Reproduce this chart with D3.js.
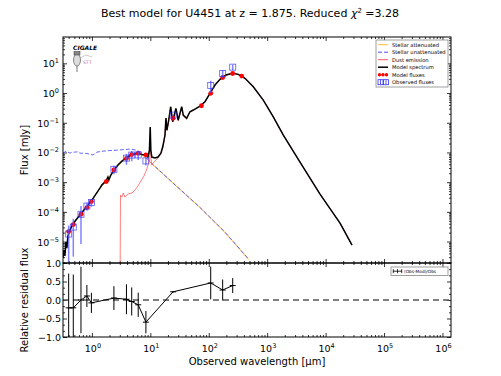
<!DOCTYPE html>
<html>
<head>
<meta charset="utf-8">
<script src="https://cdn.jsdelivr.net/npm/d3@7"></script>
<style>
  body { margin: 0; background: #fff; }
  text { font-family: "DejaVu Sans", sans-serif; }
</style>
</head>
<body>
<div id="chart"></div>
<script>
const width = 501;
const height = 376;

// band wavelengths (micron) and best model fluxes (mJy)
const bandWl = [0.40, 0.48, 0.65, 0.82, 0.98, 1.76, 2.38, 3.9, 4.8, 6.2, 8.4, 24.5, 75, 108, 173, 257, 366];
const modelFlux = [2.17e-5, 3.73e-5, 8.3e-5, 1.40e-4, 2.22e-4, 1.05e-3, 2.57e-3, 6.3e-3, 8.5e-3, 9.3e-3, 8.3e-3, 0.141, 0.373, 0.977, 3.33, 4.54, 3.73];

// observed fluxes (only the bands that were measured)
const obsWl = [0.40, 0.48, 0.65, 0.82, 0.98, 2.38, 3.9, 4.8, 6.2, 8.4, 24.5, 108, 173, 257];
const obsModel = [2.17e-5, 3.73e-5, 8.3e-5, 1.40e-4, 2.22e-4, 2.57e-3, 6.3e-3, 8.5e-3, 9.3e-3, 8.3e-3, 0.141, 0.977, 3.33, 4.54];
const obsFlux = [1.79e-5, 3.08e-5, 8.3e-5, 1.57e-4, 2.06e-4, 2.71e-3, 6.43e-3, 8.17e-3, 8.23e-3, 5.19e-3, 0.181, 1.81, 4.56, 7.44];
const obsErr = [1.66e-5, 2.77e-5, 7.47e-5, 4.7e-5, 5.6e-5, 8.7e-4, 2.6e-3, 3.1e-3, 2.7e-3, 1.56e-3, 0.004, 0.8, 1.3, 1.5];

// model spectrum
const specWl = [0.319, 0.332, 0.345, 0.359, 0.373, 0.388, 0.420, 0.473, 0.532, 0.624, 0.730, 0.855, 1.0, 1.17, 1.37, 1.48, 1.60, 1.74, 1.88, 1.95, 2.11, 2.38, 2.79, 3.26, 3.82, 4.47, 5.24, 6.13, 7.18, 8.40, 9.10, 9.65, 9.96, 10.2, 10.6, 12.0, 13.5, 15.2, 16.4, 17.8, 18.5, 19.2, 20.4, 22.3, 24.1, 27.4, 30.0, 34.4, 36.6, 41.8, 47.6, 54.3, 70.7, 86.1, 105, 128, 156, 197, 257, 320, 417, 578, 857, 1271, 1888, 3647, 8017, 17650, 28330];
const specFlux = [2.8e-6, 5.2e-6, 3.3e-6, 9.6e-6, 6.0e-6, 1.53e-5, 2.44e-5, 3.9e-5, 5.3e-5, 7.8e-5, 1.15e-4, 1.69e-4, 2.5e-4, 3.97e-4, 6.3e-4, 8.0e-4, 9.3e-4, 1.09e-3, 1.49e-3, 1.18e-3, 1.73e-3, 2.55e-3, 3.77e-3, 5.1e-3, 6.5e-3, 7.9e-3, 8.8e-3, 9.3e-3, 8.5e-3, 8.2e-3, 7.0e-3, 1.2e-2, 7.2e-2, 1.2e-2, 7.0e-3, 6.5e-3, 7.0e-3, 9.5e-3, 1.64e-2, 3.85e-2, 0.144, 5.7e-2, 0.106, 0.346, 0.108, 0.305, 0.123, 0.346, 0.182, 0.141, 0.235, 0.268, 0.365, 0.509, 0.977, 1.86, 2.89, 4.04, 4.60, 4.26, 3.13, 1.63, 0.581, 0.159, 3.85e-2, 4.75e-3, 3.97e-4, 4.2e-5, 7.6e-6];

// stellar attenuated
const attWl = [0.319, 0.373, 0.420, 0.532, 0.730, 1.0, 1.37, 1.74, 2.38, 3.26, 4.47, 6.13, 7.18, 8.40, 9.10, 9.84, 21.6, 70.5, 189, 480];
const attFlux = [3e-6, 8e-6, 2.4e-5, 5.2e-5, 1.13e-4, 2.45e-4, 6.2e-4, 1.07e-3, 2.5e-3, 5.0e-3, 7.7e-3, 9.0e-3, 8.2e-3, 6.6e-3, 5.9e-3, 4.75e-3, 1.15e-3, 1.4e-4, 2.05e-5, 2.5e-6];

// stellar unattenuated
const unattWl = [0.319, 0.359, 0.420, 0.45, 0.512, 0.58, 0.624, 0.821, 1.04, 1.22, 1.60, 2.03, 2.79, 3.53, 4.47, 5.66, 6.91, 8.40, 9.84, 21.6, 70.5, 189, 480];
const unattFlux = [9.3e-3, 1.11e-2, 9.5e-3, 1.0e-2, 1.03e-2, 1.05e-2, 9.5e-3, 9.2e-3, 8.2e-3, 1.03e-2, 1.11e-2, 1.16e-2, 1.2e-2, 1.25e-2, 1.30e-2, 1.2e-2, 1.03e-2, 7.0e-3, 4.86e-3, 1.18e-3, 1.42e-4, 2.09e-5, 2.58e-6];

// dust emission
const dustWl = [3.0, 3.08, 3.26, 3.44, 3.67, 3.97, 4.30, 4.84, 5.45, 6.13, 6.90, 7.77, 8.58, 9.27, 9.65, 9.96, 10.2, 10.6, 11.5, 13.0, 14.6, 16.4, 17.8, 18.5, 19.2, 20.4, 22.3, 24.1, 27.4, 30.0, 34.4, 36.6, 41.8, 47.6, 54.3, 70.7, 86.1, 105, 128, 156, 197, 257, 320, 417, 578, 857, 1271, 1888, 3647, 8017, 17650, 28330];
const dustFlux = [1e-9, 3.68e-4, 3.15e-4, 4.3e-4, 3.15e-4, 3.68e-4, 4.13e-4, 4.3e-4, 5.4e-4, 7.4e-4, 1.09e-3, 1.6e-3, 2.55e-3, 4.07e-3, 8.2e-3, 6.6e-2, 6.5e-3, 3.77e-3, 4.75e-3, 6.0e-3, 8.2e-3, 1.41e-2, 3.56e-2, 0.144, 5.3e-2, 0.098, 0.338, 0.106, 0.29, 0.114, 0.338, 0.168, 0.133, 0.229, 0.262, 0.36, 0.505, 0.975, 1.86, 2.89, 4.04, 4.6, 4.26, 3.13, 1.63, 0.581, 0.159, 3.85e-2, 4.75e-3, 3.97e-4, 4.2e-5, 7.6e-6];

const xMajor = [1, 10, 100, 1e3, 1e4, 1e5, 1e6];
const xLabels = ["0", "1", "2", "3", "4", "5", "6"];
const yMajor = [1e-5, 1e-4, 1e-3, 1e-2, 1e-1, 1, 10];
const yLabels = ["\u22125", "\u22124", "\u22123", "\u22122", "\u22121", "0", "1"];
const rMajor = [-1, -0.5, 0, 0.5, 1];
const rLabels = ["\u22121.0", "\u22120.5", "0.0", "0.5", "1.0"];

const legendNames = ["Stellar attenuated", "Stellar unattenuated", "Dust emission", "Model spectrum", "Model fluxes", "Observed fluxes"];

const L = 63, R = 451, T = 37, MB = 263, RB = 337;

const svg = d3.select("#chart")
  .append("svg")
  .attr("width", width)
  .attr("height", height);

const x = d3.scaleLog().domain([0.32, 1.4e6]).range([L, R]);
const y = d3.scaleLog().domain([1.9e-6, 77]).range([MB, T]);
const yr = d3.scaleLinear().domain([-1, 1]).range([RB, MB]);

const defs = svg.append("defs");
defs.append("clipPath").attr("id", "clipMain")
  .append("rect").attr("x", L).attr("y", T).attr("width", R - L).attr("height", MB - T);
defs.append("clipPath").attr("id", "clipRes")
  .append("rect").attr("x", L).attr("y", MB).attr("width", R - L).attr("height", RB - MB);

// minor ticks for log axes
function logMinor(lo, hi) {
  const out = [];
  for (let e = -7; e <= 7; e++) {
    for (let m = 2; m <= 9; m++) {
      const v = m * Math.pow(10, e);
      if (v > lo && v < hi) out.push(v);
    }
  }
  return out;
}
const xMinor = logMinor(0.32, 1.4e6);
const yMinor = logMinor(1.9e-6, 77);
const rMinor = d3.range(-1, 1.001, 1 / 6).filter(v => rMajor.every(m => Math.abs(m - v) > 1e-6));

function ticks(axisFn, scale, values, size, tx, ty) {
  const g = svg.append("g")
    .attr("transform", `translate(${tx},${ty})`)
    .call(axisFn(scale).tickValues(values).tickSize(size).tickSizeOuter(0).tickFormat(""));
  g.select(".domain").remove();
  g.selectAll("line").attr("stroke", "#000").attr("stroke-width", 0.8);
}

// main panel ticks
ticks(d3.axisTop, x, xMajor, 4, 0, MB);
ticks(d3.axisTop, x, xMinor, 2, 0, MB);
ticks(d3.axisBottom, x, xMajor, 4, 0, T);
ticks(d3.axisBottom, x, xMinor, 2, 0, T);
ticks(d3.axisRight, y, yMajor, 4, L, 0);
ticks(d3.axisRight, y, yMinor, 2, L, 0);
ticks(d3.axisLeft, y, yMajor, 4, R, 0);
ticks(d3.axisLeft, y, yMinor, 2, R, 0);
// residual panel ticks
ticks(d3.axisBottom, x, xMajor, 4, 0, MB);
ticks(d3.axisBottom, x, xMinor, 2, 0, MB);
ticks(d3.axisTop, x, xMajor, 4, 0, RB);
ticks(d3.axisTop, x, xMinor, 2, 0, RB);
ticks(d3.axisRight, yr, rMajor, 4, L, 0);
ticks(d3.axisRight, yr, rMinor, 2, L, 0);
ticks(d3.axisLeft, yr, rMajor, 4, R, 0);
ticks(d3.axisLeft, yr, rMinor, 2, R, 0);

// spectra
const main = svg.append("g").attr("clip-path", "url(#clipMain)");
const line = d3.line().x(d => x(d[0])).y(d => y(d[1]));

main.append("path").datum(d3.zip(attWl, attFlux))
  .attr("d", line).attr("fill", "none").attr("stroke", "#ffb833").attr("stroke-width", 1);
main.append("path").datum(d3.zip(unattWl, unattFlux))
  .attr("d", line).attr("fill", "none").attr("stroke", "#4d4dff").attr("stroke-width", 1)
  .attr("stroke-dasharray", "4,2").attr("opacity", 0.85);
main.append("path").datum(d3.zip(dustWl, dustFlux))
  .attr("d", line).attr("fill", "none").attr("stroke", "#ff5c5c").attr("stroke-width", 0.8);
main.append("path").datum(d3.zip(specWl, specFlux))
  .attr("d", line).attr("fill", "none").attr("stroke", "#000").attr("stroke-width", 1.5);

// model fluxes
main.selectAll(".mod").data(d3.zip(bandWl, modelFlux)).enter()
  .append("circle").attr("class", "mod")
  .attr("cx", d => x(d[0])).attr("cy", d => y(d[1])).attr("r", 2.4)
  .attr("fill", "#ff0000");

// observed fluxes with error bars
const obs = obsWl.map((w, i) => ({ w: w, f: obsFlux[i], e: obsErr[i], m: obsModel[i] }));
main.selectAll(".oerr").data(obs).enter()
  .append("line").attr("class", "oerr")
  .attr("x1", d => x(d.w)).attr("x2", d => x(d.w))
  .attr("y1", d => y(d.f + d.e))
  .attr("y2", d => d.f - d.e > 0 ? y(d.f - d.e) : MB + 10)
  .attr("stroke", "#5a5aff").attr("stroke-width", 1.5).attr("opacity", 0.75);
main.selectAll(".obs").data(obs).enter()
  .append("rect").attr("class", "obs")
  .attr("x", d => x(d.w) - 3).attr("y", d => y(d.f) - 3)
  .attr("width", 6).attr("height", 6)
  .attr("fill", "none").attr("stroke", "#3030ff").attr("stroke-width", 0.8).attr("opacity", 0.8);

// residual panel
const res = svg.append("g").attr("clip-path", "url(#clipRes)");
res.append("line")
  .attr("x1", L).attr("x2", R).attr("y1", yr(0)).attr("y2", yr(0))
  .attr("stroke", "#555").attr("stroke-width", 1.5).attr("stroke-dasharray", "6,4");

const resid = obs.map(d => ({ w: d.w, r: (d.f - d.m) / d.f, e: d.e / d.f }));
res.append("path").datum(resid)
  .attr("d", d3.line().x(d => x(d.w)).y(d => yr(d.r)))
  .attr("fill", "none").attr("stroke", "#000").attr("stroke-width", 1);
res.selectAll(".rerr").data(resid).enter()
  .append("line").attr("class", "rerr")
  .attr("x1", d => x(d.w)).attr("x2", d => x(d.w))
  .attr("y1", d => yr(d.r + d.e)).attr("y2", d => yr(d.r - d.e))
  .attr("stroke", "#000").attr("stroke-width", 1);
res.selectAll(".rmk").data(resid).enter()
  .append("line").attr("class", "rmk")
  .attr("x1", d => x(d.w) - 3).attr("x2", d => x(d.w) + 3)
  .attr("y1", d => yr(d.r)).attr("y2", d => yr(d.r))
  .attr("stroke", "#000").attr("stroke-width", 1);

// frames
svg.append("rect").attr("x", L).attr("y", T).attr("width", R - L).attr("height", MB - T)
  .attr("fill", "none").attr("stroke", "#000").attr("stroke-width", 1);
svg.append("rect").attr("x", L).attr("y", MB).attr("width", R - L).attr("height", RB - MB)
  .attr("fill", "none").attr("stroke", "#000").attr("stroke-width", 1);

// tick labels
const yl = svg.append("g").attr("font-size", 9.5).attr("text-anchor", "end");
yMajor.forEach((v, i) => {
  const t = yl.append("text").attr("x", 59).attr("y", y(v) + 4).text("10");
  t.append("tspan").attr("dy", -4).attr("font-size", 6.5).text(yLabels[i]);
});
rMajor.forEach((v, i) => {
  yl.append("text").attr("x", 61).attr("y", yr(v) + 3.5).text(rLabels[i]);
});
const xl = svg.append("g").attr("font-size", 9.5).attr("text-anchor", "middle");
xMajor.forEach((v, i) => {
  const t = xl.append("text").attr("x", x(v) + 1).attr("y", 351.5).text("10");
  t.append("tspan").attr("dy", -4).attr("font-size", 6.5).text(xLabels[i]);
});

// axis titles
svg.append("text").attr("x", 257).attr("y", 365).attr("text-anchor", "middle")
  .attr("font-size", 10).text("Observed wavelength [\u03bcm]");
svg.append("text").attr("transform", "translate(28,150) rotate(-90)")
  .attr("text-anchor", "middle").attr("font-size", 10).text("Flux [mJy]");
svg.append("text").attr("transform", "translate(28,300) rotate(-90)")
  .attr("text-anchor", "middle").attr("font-size", 10).text("Relative residual flux");

// title
const title = svg.append("text").attr("x", 250).attr("y", 17).attr("text-anchor", "middle")
  .attr("font-size", 11).text("Best model for U4451 at z = 1.875. Reduced ");
title.append("tspan").attr("font-style", "italic").text("\u03c7");
title.append("tspan").attr("dy", -4).attr("font-size", 7).text("2");
title.append("tspan").attr("dy", 4).text(" =3.28");

// legend (main)
const lg = svg.append("g");
lg.append("rect").attr("x", 376).attr("y", 40).attr("width", 72).attr("height", 47)
  .attr("fill", "#fff").attr("stroke", "#888").attr("stroke-width", 0.8);
legendNames.forEach((name, i) => {
  const yy = 44.7 + i * 7.5;
  lg.append("text").attr("x", 392).attr("y", yy + 1.8).attr("font-size", 5.2).text(name);
});
lg.append("line").attr("x1", 378).attr("x2", 388).attr("y1", 44.7).attr("y2", 44.7)
  .attr("stroke", "#ffb833").attr("stroke-width", 1);
lg.append("line").attr("x1", 378).attr("x2", 388).attr("y1", 52.2).attr("y2", 52.2)
  .attr("stroke", "#4d4dff").attr("stroke-width", 1).attr("stroke-dasharray", "4,2");
lg.append("line").attr("x1", 378).attr("x2", 388).attr("y1", 59.7).attr("y2", 59.7)
  .attr("stroke", "#ff5c5c").attr("stroke-width", 1);
lg.append("line").attr("x1", 378).attr("x2", 388).attr("y1", 67.2).attr("y2", 67.2)
  .attr("stroke", "#000").attr("stroke-width", 1.5);
[379.5, 383, 386.5].forEach(cx => {
  lg.append("circle").attr("cx", cx).attr("cy", 74.7).attr("r", 1.7).attr("fill", "#ff0000");
});
[380.5, 386].forEach(cx => {
  lg.append("rect").attr("x", cx - 2.5).attr("y", 79.7).attr("width", 5).attr("height", 5)
    .attr("fill", "none").attr("stroke", "#3030ff").attr("stroke-width", 0.8);
  lg.append("line").attr("x1", cx).attr("x2", cx).attr("y1", 79.2).attr("y2", 85.2)
    .attr("stroke", "#5a5aff").attr("stroke-width", 1);
});

// legend (residual)
const rg = svg.append("g");
rg.append("rect").attr("x", 391).attr("y", 267).attr("width", 57).attr("height", 8.5)
  .attr("fill", "#fff").attr("stroke", "#888").attr("stroke-width", 0.8);
rg.append("line").attr("x1", 393).attr("x2", 402).attr("y1", 271.2).attr("y2", 271.2)
  .attr("stroke", "#000").attr("stroke-width", 0.8);
[393.3, 397.5, 401.7].forEach(cx => {
  rg.append("line").attr("x1", cx).attr("x2", cx).attr("y1", 269.2).attr("y2", 273.2)
    .attr("stroke", "#000").attr("stroke-width", 0.8);
});
rg.append("text").attr("x", 404).attr("y", 272.8).attr("font-size", 4.3).text("(Obs-Mod)/Obs");

// CIGALE logo
const logo = svg.append("g");
logo.append("text").attr("x", 73).attr("y", 49.5).attr("font-size", 6)
  .attr("font-weight", "bold").attr("font-style", "italic").text("CIGALE");
logo.append("ellipse").attr("cx", 77).attr("cy", 60).attr("rx", 3.5).attr("ry", 6)
  .attr("fill", "#ddd").attr("stroke", "#555").attr("stroke-width", 0.7);
logo.append("rect").attr("x", 74).attr("y", 51.5).attr("width", 6).attr("height", 3.5)
  .attr("fill", "#888").attr("stroke", "#333").attr("stroke-width", 0.5);
logo.append("line").attr("x1", 77).attr("x2", 77).attr("y1", 66).attr("y2", 72)
  .attr("stroke", "#555").attr("stroke-width", 0.8);
logo.append("path").attr("d", "M80,58 L86,55 L92,57").attr("fill", "none")
  .attr("stroke", "#999").attr("stroke-width", 0.5);
logo.append("text").attr("x", 83).attr("y", 64).attr("font-size", 4.5).attr("fill", "#9a5cc9").text("ST");
logo.append("text").attr("x", 89).attr("y", 64).attr("font-size", 4.5).attr("fill", "#d9534f").text("T");
</script>
</body>
</html>
